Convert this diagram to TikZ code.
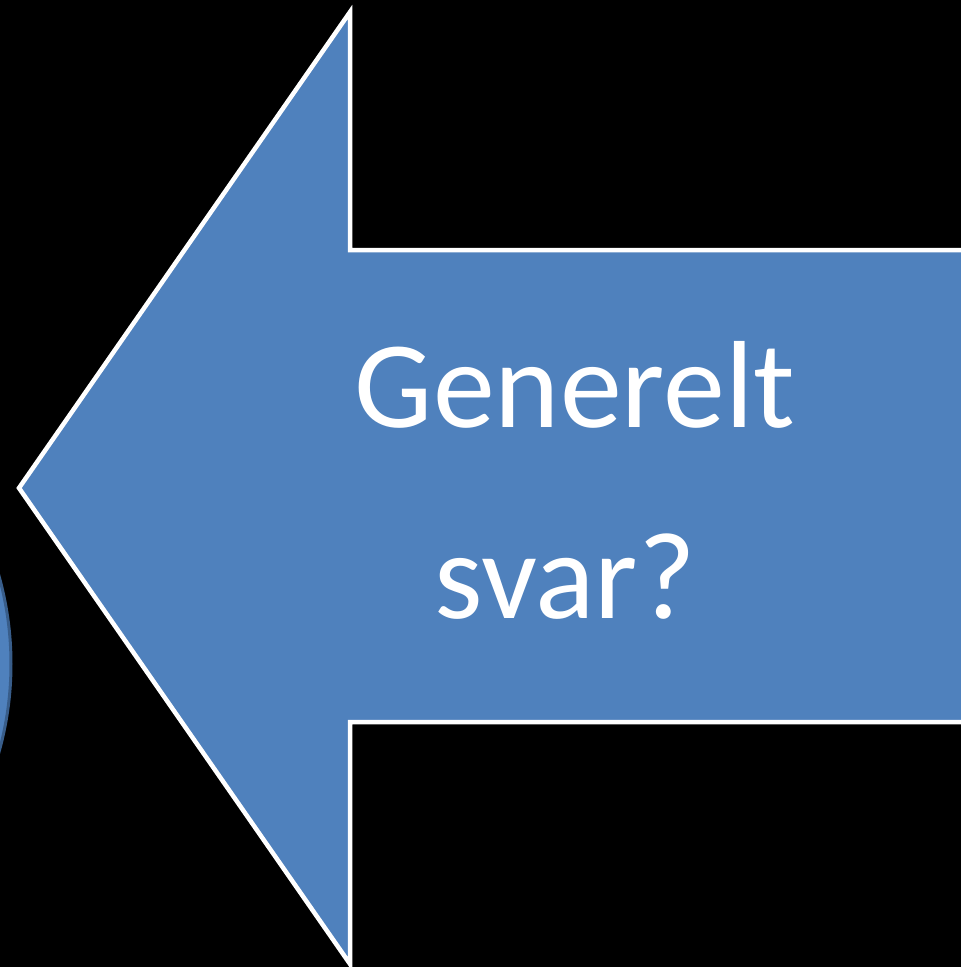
\documentclass[tikz,border=0pt]{standalone}
\usepackage{fontspec}
\setmainfont{Carlito}
\definecolor{arrowblue}{HTML}{4F81BD}
\definecolor{darkrim}{HTML}{385D8A}
\begin{document}
\begin{tikzpicture}[x=1pt,y=-1pt,
  arrowshape/.style={fill=arrowblue,draw=white,line width=4.5pt,line join=miter},
  disc/.style={fill=arrowblue,draw=darkrim,line width=3pt},
  label/.style={text=white,inner sep=0pt,anchor=base,font=\fontsize{124}{150}\selectfont}]
\fill[black] (0,0) rectangle (961,967);
\useasboundingbox (0,0) rectangle (961,967);
\begin{scope}
\clip (0,0) rectangle (961,967);
\draw[disc] (-315,664) circle (326);
\draw[arrowshape] (19,488) -- (350,12) -- (350,250) -- (1000,250) -- (1000,722) -- (350,722) -- (350,964) -- cycle;
\end{scope}
\node[label] (l1) at (575,427) {Generelt};
\node[label] (l2) at (565,618) {svar?};
\end{tikzpicture}
\end{document}
